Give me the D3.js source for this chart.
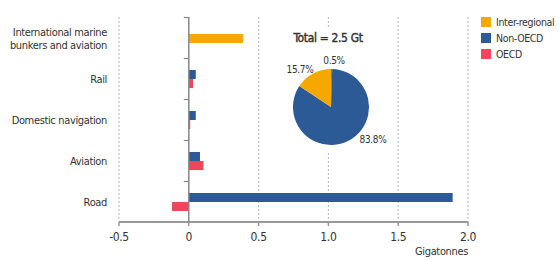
<!DOCTYPE html>
<html lang="en">
<head>
    <meta charset="UTF-8">
    <title>Transport CO2 by mode</title>
    <script src="https://d3js.org/d3.v7.min.js"></script>
    <style>
        body {
            margin: 0;
            background: #fff;
            font-family: "DejaVu Sans Condensed", "DejaVu Sans", sans-serif;
        }
        text {
            fill: #333;
            letter-spacing: -0.35px;
        }
    </style>
</head>
<body>
    <svg id="chart" width="560" height="260"></svg>
    <script>
        // categories, top to bottom
        let categories = ["International marine|bunkers and aviation", "Rail", "Domestic navigation", "Aviation", "Road"]
        let interRegional = [0.39, null, null, null, null]
        let nonOECD = [null, 0.05, 0.05, 0.08, 1.89]
        let oecd = [null, 0.03, 0.01, 0.105, -0.12]
        let xTicks = [-0.5, 0, 0.5, 1.0, 1.5, 2.0]

        // pie shares, clockwise from 12 o'clock
        let pieNames = ["OECD", "Non-OECD", "Inter-regional"]
        let pieShares = [0.5, 83.8, 15.7]
        let pieTitle = "Total = 2.5 Gt"

        let legendNames = ["Inter-regional", "Non-OECD", "OECD"]
        let colors = { "Inter-regional": "#f5a800", "Non-OECD": "#2b5a97", "OECD": "#f2445b" }

        let svg = d3.select("#chart")
        let x = d3.scaleLinear().domain([-0.5, 2.0]).range([119, 468])
        let y = d3.scaleBand().domain(categories).range([17.5, 222.5])
        let plotTop = 17, plotBottom = 222

        // dashed gridlines
        svg.append("g").selectAll("line")
            .data(xTicks.filter(d => d !== 0))
            .enter().append("line")
            .attr("x1", d => x(d)).attr("x2", d => x(d))
            .attr("y1", plotTop).attr("y2", plotBottom)
            .attr("stroke", "#b5b5b5")
            .attr("stroke-dasharray", "2,2")

        // bars
        let barH = 9
        let series = [
            { name: "Inter-regional", values: interRegional, off: -4 },
            { name: "Non-OECD", values: nonOECD, off: -barH },
            { name: "OECD", values: oecd, off: 0 }
        ]
        series.forEach(s => {
            svg.append("g").selectAll("rect")
                .data(categories.map((c, i) => ({ c: c, v: s.values[i] })).filter(d => d.v !== null))
                .enter().append("rect")
                .attr("x", d => x(Math.min(0, d.v)))
                .attr("width", d => Math.abs(x(d.v) - x(0)))
                .attr("y", d => y(d.c) + y.bandwidth() / 2 + s.off)
                .attr("height", barH)
                .attr("fill", colors[s.name])
        })

        // x axis
        svg.append("line")
            .attr("x1", x(-0.5)).attr("x2", x(2.0))
            .attr("y1", plotBottom).attr("y2", plotBottom)
            .attr("stroke", "#999").attr("stroke-width", 2)
        svg.append("g").selectAll("line")
            .data(xTicks).enter().append("line")
            .attr("x1", d => x(d)).attr("x2", d => x(d))
            .attr("y1", plotBottom).attr("y2", plotBottom + 4)
            .attr("stroke", "#999").attr("stroke-width", 1.5)
        svg.append("g").selectAll("text")
            .data(xTicks).enter().append("text")
            .attr("x", d => x(d)).attr("y", 241)
            .attr("text-anchor", "middle")
            .attr("font-size", 12)
            .text(d => d === 0 ? "0" : d.toFixed(1))
        svg.append("text")
            .attr("x", x(2.0)).attr("y", 255)
            .attr("text-anchor", "end")
            .attr("font-size", 11)
            .text("Gigatonnes")

        // y axis
        svg.append("line")
            .attr("x1", x(0)).attr("x2", x(0))
            .attr("y1", plotTop).attr("y2", plotBottom)
            .attr("stroke", "#888").attr("stroke-width", 1.5)
        svg.append("g").selectAll("line")
            .data(categories).enter().append("line")
            .attr("x1", x(0) - 5).attr("x2", x(0))
            .attr("y1", d => y(d)).attr("y2", d => y(d))
            .attr("stroke", "#888").attr("stroke-width", 1.2)
        svg.append("g").selectAll("text")
            .data(categories).enter().append("text")
            .attr("text-anchor", "end")
            .attr("font-size", 11)
            .each(function (d) {
                let lines = d.split("|")
                let cy = y(d) + y.bandwidth() / 2
                let t = d3.select(this)
                lines.forEach((l, i) => {
                    t.append("tspan")
                        .attr("x", 107)
                        .attr("y", cy + 4 + (i - (lines.length - 1) / 2) * 13)
                        .text(l)
                })
            })

        // pie inset with white background
        svg.append("rect")
            .attr("x", 266).attr("y", 27)
            .attr("width", 126).attr("height", 124)
            .attr("fill", "#fff")
        let cx = 331, cy = 107, r = 38
        let pie = d3.pie().sort(null).value(d => d.v)
        let arcs = pie(pieNames.map((n, i) => ({ n: n, v: pieShares[i] })))
        let arc = d3.arc().innerRadius(0).outerRadius(r)
        let pg = svg.append("g").attr("transform", `translate(${cx},${cy})`)
        pg.selectAll("path").data(arcs).enter().append("path")
            .attr("d", arc)
            .attr("fill", d => colors[d.data.n])
        svg.append("text")
            .attr("x", 328).attr("y", 42)
            .attr("text-anchor", "middle")
            .attr("font-size", 12)
            .attr("stroke", "#333").attr("stroke-width", 0.4)
            .text(pieTitle)
        // label spots: OECD, Non-OECD, Inter-regional
        let labelPos = [[334, 64], [373, 143], [300, 73]]
        svg.append("g").selectAll("text")
            .data(arcs).enter().append("text")
            .attr("x", (d, i) => labelPos[i][0]).attr("y", (d, i) => labelPos[i][1])
            .attr("text-anchor", "middle")
            .attr("font-size", 10)
            .text(d => d.data.v.toFixed(1) + "%")

        // legend
        let lg = svg.append("g").selectAll("g")
            .data(legendNames).enter().append("g")
            .attr("transform", (d, i) => `translate(481,${17 + i * 16})`)
        lg.append("rect").attr("width", 10).attr("height", 10).attr("fill", d => colors[d])
        lg.append("text").attr("x", 15).attr("y", 9).attr("font-size", 10.5).text(d => d)
    </script>
</body>
</html>
